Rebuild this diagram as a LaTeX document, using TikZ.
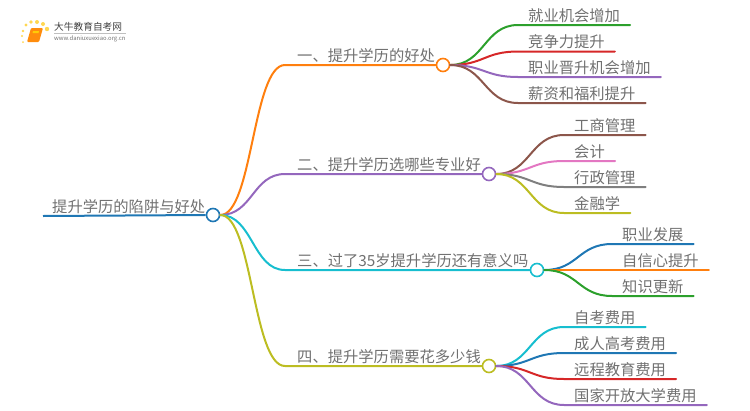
\documentclass[tikz,border=0pt]{standalone}
\usepackage{fontspec}
\usetikzlibrary{calc}
\setmainfont{Noto Sans CJK SC}
\definecolor{cOrange}{HTML}{FF7F0E}
\definecolor{cPurple}{HTML}{9467BD}
\definecolor{cCyan}{HTML}{17BECF}
\definecolor{cOlive}{HTML}{BCBD22}
\definecolor{cBlue}{HTML}{1F77B4}
\definecolor{cGreen}{HTML}{2CA02C}
\definecolor{cRed}{HTML}{D62728}
\definecolor{cBrown}{HTML}{8C564B}
\definecolor{cPink}{HTML}{E377C2}
\definecolor{cGray}{HTML}{7F7F7F}
\definecolor{cText}{HTML}{707070}
\begin{document}
\begin{tikzpicture}[x=1pt,y=1pt]
    \tikzset{every node/.style={text=cText, font=\fontsize{15.3}{18}\selectfont}}
    \tikzset{label/.style={anchor=south west, inner ysep=1.5, inner xsep=10, text height=13, text depth=2}}
    \tikzset{dotnode/.style={circle, draw, line width=1.6, fill=white, minimum size=13, inner sep=0}}
    \tikzset{link/.style={line width=2, line cap=round, to path={.. controls ($(\tikztostart)!0.5!(\tikztotarget|-\tikztostart)$) and ($(\tikztotarget)!0.5!(\tikztostart|-\tikztotarget)$) .. (\tikztotarget)}}}
    \useasboundingbox (0,0) rectangle (750,-410);
    % logo
    \foreach \dx/\dy/\dr in {23/31/1.4, 26/25/1.7, 31/22/1.9, 37/22/2, 43/24/2, 47/29/2.2, 22/36/1.2, 23/42/1}
        \fill[cOrange!45!yellow!70!white] (\dx,-\dy) circle (\dr);
    \fill[cOrange!90!yellow, rounded corners=1] (31,-28) -- (43,-28) -- (39,-42) -- (27,-42) -- cycle;
    \fill[cOrange!40!yellow] (33,-31) -- (39,-31) -- (38.5,-33) -- (32.5,-33) -- cycle;
    \node[inner sep=0, anchor=west, text=black!75, font=\fontsize{9.7}{11}\selectfont] (logotitle) at (54,-27) {大牛教育自考网};
    \node[inner sep=0, anchor=west, text=black!55, font=\fontsize{5.9}{7}\selectfont] (logourl) at (54,-38.5) {www.daniuxuexiao.org.cn};
    \draw[black!25, line width=0.5] (logotitle.south west) ++(0,-1.5) coordinate (logoa) -- (logoa -| logourl.east);
    % center
    \node[label, inner xsep=9] (rootlabel) at (43,-216) {提升学历的陷阱与好处};
    \node[dotnode, draw=cBlue] (root) at (213,-215) {};
    % first level
    \node[label, inner xsep=12] (al) at (285,-65) {一、提升学历的好处};
    \node[dotnode, draw=cOrange] (a) at (443,-65) {};
    \node[label, inner xsep=12] (bl) at (285,-174) {二、提升学历选哪些专业好};
    \node[dotnode, draw=cPurple] (b) at (489,-174) {};
    \node[label, inner xsep=12] (cl) at (285,-270) {三、过了35岁提升学历还有意义吗};
    \node[dotnode, draw=cCyan] (c) at (537,-270) {};
    \node[label, inner xsep=12] (dl) at (285,-366) {四、提升学历需要花多少钱};
    \node[dotnode, draw=cOlive] (d) at (489,-366) {};
    % second level
    \node[label] (a1) at (518,-25) {就业机会增加};
    \node[label] (a2) at (518,-51.5) {竞争力提升};
    \node[label] (a3) at (518,-77) {职业晋升机会增加};
    \node[label] (a4) at (518,-103) {薪资和福利提升};
    \node[label] (b1) at (564,-135) {工商管理};
    \node[label] (b2) at (564,-161) {会计};
    \node[label] (b3) at (564,-187) {行政管理};
    \node[label] (b4) at (564,-213) {金融学};
    \node[label] (c1) at (612,-244) {职业发展};
    \node[label] (c2) at (612,-270) {自信心提升};
    \node[label] (c3) at (612,-296) {知识更新};
    \node[label] (d1) at (564,-327) {自考费用};
    \node[label] (d2) at (564,-353) {成人高考费用};
    \node[label] (d3) at (564,-379) {远程教育费用};
    \node[label] (d4) at (564,-405) {国家开放大学费用};
    % connectors
    \draw[cBlue, line width=2] (rootlabel.south west) -- (root.west);
    \draw[link, cOrange] (root.east) to (al.south west) -- (a.west);
    \draw[link, cPurple] (root.east) to (bl.south west) -- (b.west);
    \draw[link, cCyan] (root.east) to (cl.south west) -- (c.west);
    \draw[link, cOlive] (root.east) to (dl.south west) -- (d.west);
    \draw[link, cGreen] (a.east) to (a1.south west) -- (a1.south east);
    \draw[link, cRed] (a.east) to (a2.south west) -- (a2.south east);
    \draw[link, cPurple] (a.east) to (a3.south west) -- (a3.south east);
    \draw[link, cBrown] (a.east) to (a4.south west) -- (a4.south east);
    \draw[link, cBrown] (b.east) to (b1.south west) -- (b1.south east);
    \draw[link, cPink] (b.east) to (b2.south west) -- (b2.south east);
    \draw[link, cGray] (b.east) to (b3.south west) -- (b3.south east);
    \draw[link, cOlive] (b.east) to (b4.south west) -- (b4.south east);
    \draw[link, cBlue] (c.east) to (c1.south west) -- (c1.south east);
    \draw[link, cOrange] (c.east) to (c2.south west) -- (c2.south east);
    \draw[link, cGreen] (c.east) to (c3.south west) -- (c3.south east);
    \draw[link, cCyan] (d.east) to (d1.south west) -- (d1.south east);
    \draw[link, cBlue] (d.east) to (d2.south west) -- (d2.south east);
    \draw[link, cRed] (d.east) to (d3.south west) -- (d3.south east);
    \draw[link, cPurple] (d.east) to (d4.south west) -- (d4.south east);
\end{tikzpicture}
\end{document}
